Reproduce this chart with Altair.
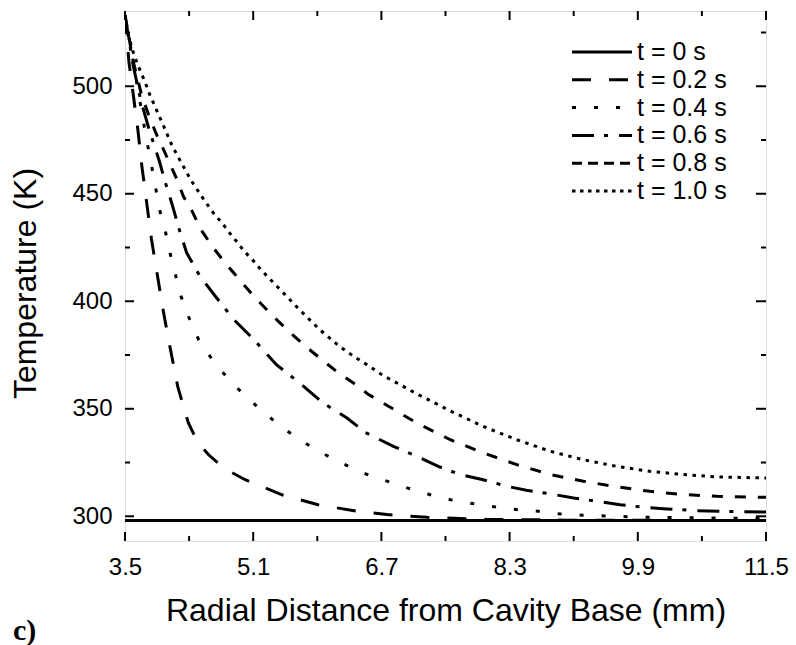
import altair as alt
import pandas as pd

# ---- data ----
series_labels = ["t = 0 s", "t = 0.2 s", "t = 0.4 s", "t = 0.6 s", "t = 0.8 s", "t = 1.0 s"]

x_t00 = [3.5, 11.5]
T_t00 = [298, 298]

x_t02 = [3.5, 3.55, 3.6, 3.66, 3.71, 3.77, 3.83, 3.9, 3.98, 4.06, 4.16, 4.29, 4.4, 4.54, 4.75,
         5.0, 5.46, 5.91, 6.4, 6.77, 7.27, 8.0, 9.0, 10.0, 11.5]
T_t02 = [533, 511, 497, 480, 463, 446, 429, 413, 395, 379, 360, 343.5, 335, 328.7, 322,
         317, 310, 305.4, 302.3, 300.8, 299.5, 298.6, 298.2, 298.1, 298]

x_t04 = [3.5, 3.6, 3.7, 3.77, 3.83, 3.88, 3.93, 4.0, 4.06, 4.13, 4.2, 4.3, 4.42, 4.61, 4.85,
         5.12, 5.39, 5.66, 5.93, 6.2, 6.48, 6.75, 7.02, 7.3, 7.56, 7.84, 8.11, 8.39, 8.66,
         8.93, 9.2, 9.6, 10.0, 10.5, 11.0, 11.5]
T_t04 = [533, 512, 490, 475, 463.4, 453.3, 442.8, 433.2, 422.7, 412.3, 402.2, 392.2, 382.1, 371.7, 361.4,
         352, 343.4, 336, 330, 324.8, 320, 316.6, 313.2, 310.1, 307.7, 305.9, 304.4, 303.1, 302.3,
         301.1, 300.5, 300, 299.6, 299.3, 299.1, 299]

x_t06 = [3.5, 3.6, 3.7, 3.8, 3.93, 4.0, 4.09, 4.18, 4.27, 4.43, 4.63, 4.86, 5.11, 5.39, 5.68,
         5.96, 6.27, 6.5, 6.85, 7.12, 7.41, 7.68, 7.97, 8.26, 8.51, 8.81, 9.1, 9.39, 9.68,
         9.97, 10.26, 10.64, 11.0, 11.5]
T_t06 = [533, 510, 493, 480, 465, 455.7, 444.8, 433, 422.5, 412, 402.2, 391.4, 382.1, 370.5, 362,
         353, 345.7, 339, 332.5, 328.3, 323.2, 319.4, 317, 314, 312.1, 310.4, 308.5, 307, 305.4,
         304.2, 303.4, 302.6, 302.2, 302]

x_t08 = [3.5, 3.6, 3.7, 3.8, 3.9, 4.0, 4.07, 4.15, 4.23, 4.34, 4.45, 4.59, 4.75, 4.93, 5.11,
         5.31, 5.52, 5.73, 5.93, 6.14, 6.35, 6.54, 6.72, 7.14, 7.56, 7.97, 8.39, 8.81, 9.22,
         9.64, 10.05, 10.47, 10.89, 11.5]
T_t08 = [533, 512, 497, 486, 477, 469, 463, 456.5, 448.7, 441.7, 433.2, 425.5, 417.8, 410, 402.2,
         394.5, 386.8, 379.8, 373.6, 367.4, 362, 356.6, 352.7, 343.4, 335.6, 329.5, 324, 319.4, 316.3,
         313.7, 311.6, 310.1, 309.3, 308.8]

x_t10 = [3.5, 3.54, 3.6, 3.67, 3.75, 3.81, 3.87, 3.94, 4.0, 4.08, 4.15, 4.21, 4.32, 4.43, 4.5,
         4.57, 4.63, 4.71, 4.79, 4.86, 4.94, 5.01, 5.11, 5.18, 5.27, 5.44, 5.68, 5.93, 6.18,
         6.35, 6.54, 6.72, 7.14, 7.56, 7.97, 8.39, 8.81, 9.22, 9.64, 10.05, 10.47, 10.89, 11.5]
T_t10 = [533, 524, 516, 509, 502, 496, 491, 485, 480, 473, 468, 464, 456.5, 450.3, 446.4,
         442.8, 439.7, 436.6, 432.4, 429.4, 425.5, 422.4, 418.5, 415.4, 411.8, 405.3, 396, 386.8, 379,
         374.5, 370, 365.5, 357, 349, 341.8, 335.6, 330.2, 326.3, 323.2, 320.9, 319.4, 318.3, 317.8]

x_ticks_major = [3.5, 5.1, 6.7, 8.3, 9.9, 11.5]
x_ticks_minor = [4.3, 5.9, 7.5, 9.1, 10.7]
y_ticks_major = [300, 350, 400, 450, 500]
y_ticks_minor = [325, 375, 425, 475, 525]

# ---- build long table ----
frames = []
for lab, xs, ts in zip(series_labels,
                       [x_t00, x_t02, x_t04, x_t06, x_t08, x_t10],
                       [T_t00, T_t02, T_t04, T_t06, T_t08, T_t10]):
    frames.append(pd.DataFrame({"x": xs, "T": ts, "series": lab}))
df = pd.concat(frames, ignore_index=True)

W, H = 641, 530
FONT = "Liberation Sans"
XTITLE = "Radial Distance from Cavity Base (mm)"
YTITLE = "Temperature (K)"
xscale = alt.Scale(domain=[3.5, 11.5], nice=False, zero=False)
yscale = alt.Scale(domain=[288.5, 535], nice=False, zero=False)

xaxis = alt.Axis(values=x_ticks_major, format=".1f", ticks=False, domain=False, grid=False,
                 labelFontSize=24, labelPadding=14, labelFont=FONT, labelColor="black",
                 labelFlush=False, labelOverlap=False,
                 titleFont=FONT, titleFontSize=32, titleFontWeight="normal", titleColor="black",
                 titleBaseline="alphabetic", titleY=79)
yaxis = alt.Axis(values=y_ticks_major, format="d", ticks=False, domain=False, grid=False,
                 labelFontSize=24, labelPadding=13, labelFont=FONT, labelColor="black",
                 labelFlush=False, labelOverlap=False,
                 titleFont=FONT, titleFontSize=32, titleFontWeight="normal", titleColor="black",
                 titleBaseline="alphabetic", titleX=-90, titleY=272)

curve_dash = [[1, 0], [19, 18], [4, 18], [22, 10, 4, 11], [11, 12], [3.5, 5.5]]
legend_dash = [[1, 0], [19, 18], [4, 18], [22, 10, 4, 11], [10, 6], [3.5, 4.5]]

lines = alt.Chart(df).mark_line(color="black", strokeWidth=3, strokeCap="butt", clip=True).encode(
    x=alt.X("x:Q", scale=xscale, axis=xaxis, title=XTITLE),
    y=alt.Y("T:Q", scale=yscale, axis=yaxis, title=YTITLE),
    strokeDash=alt.StrokeDash("series:N",
                              scale=alt.Scale(domain=series_labels, range=curve_dash),
                              legend=None),
    order=alt.Order("x:Q"),
)

def xtick(vals, y0, y1):
    return alt.Chart(pd.DataFrame({"v": vals})).mark_rule(color="black", strokeWidth=2).encode(
        x=alt.X("v:Q", scale=xscale, axis=xaxis, title=XTITLE), y=alt.value(y0), y2=alt.value(y1))

def ytick(vals, x0, x1):
    return alt.Chart(pd.DataFrame({"v": vals})).mark_rule(color="black", strokeWidth=2).encode(
        y=alt.Y("v:Q", scale=yscale, axis=yaxis, title=YTITLE), x=alt.value(x0), x2=alt.value(x1))

ticks = [
    xtick(x_ticks_major, H, H - 9), xtick(x_ticks_minor, H, H - 5),
    xtick(x_ticks_major, 0, 9), xtick(x_ticks_minor, 0, 5),
    ytick(y_ticks_major, 0, 9), ytick(y_ticks_minor, 0, 5),
    ytick(y_ticks_major, W, W - 10), ytick(y_ticks_minor, W, W - 5),
]

# ---- legend (drawn in the upper-right of the plot area) ----
LEG_X0, LEG_X1, LEG_TX, LEG_Y0, LEG_DY = 447, 507, 512, 41, 27.8
legend_layers = []
for i, (lab, dash) in enumerate(zip(series_labels, legend_dash)):
    ld = pd.DataFrame({"s": [lab]})
    yy = LEG_Y0 + i * LEG_DY
    legend_layers.append(
        alt.Chart(ld).mark_rule(color="black", strokeWidth=3, strokeDash=dash, strokeCap="butt").encode(
            x=alt.value(LEG_X0), x2=alt.value(LEG_X1), y=alt.value(yy)))
    legend_layers.append(
        alt.Chart(ld).mark_text(font=FONT, fontSize=25, align="left", baseline="middle",
                                color="black").encode(
            text="s:N", x=alt.value(LEG_TX), y=alt.value(yy)))

panel_label = alt.Chart(pd.DataFrame({"t": ["c)"]})).mark_text(
    font="Liberation Serif", fontSize=30, fontWeight="bold", align="left", baseline="alphabetic",
    color="black").encode(text="t:N", x=alt.value(-112), y=alt.value(629))

chart = alt.layer(lines, *ticks, *legend_layers, panel_label).properties(
    width=W, height=H,
    autosize=alt.AutoSizeParams(type="none"),
    padding={"left": 125, "top": 11, "right": 30, "bottom": 104},
).configure_view(stroke="black", strokeWidth=2).configure(background="white")

chart.save("out.html", embed_options={"renderer": "svg", "actions": False})
